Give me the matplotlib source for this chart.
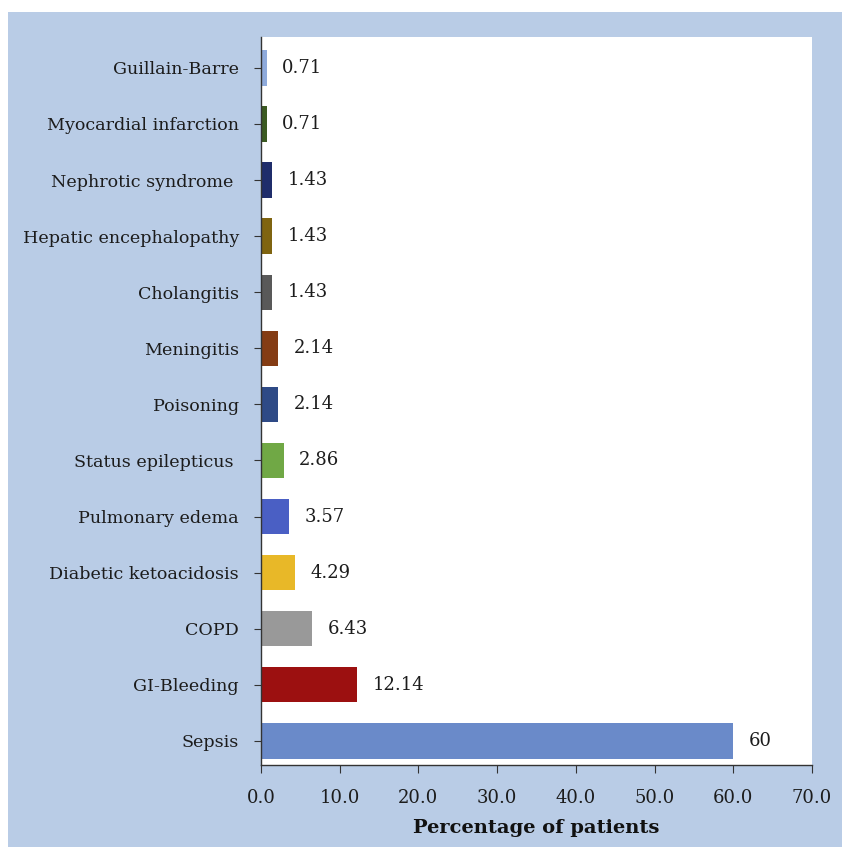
import matplotlib.pyplot as plt
from matplotlib.patches import Rectangle

# Data (top to bottom as drawn)
causes = ['Guillain-Barre', 'Myocardial infarction', 'Nephrotic syndrome ',
          'Hepatic encephalopathy', 'Cholangitis', 'Meningitis', 'Poisoning',
          'Status epilepticus ', 'Pulmonary edema', 'Diabetic ketoacidosis',
          'COPD', 'GI-Bleeding', 'Sepsis']
percent = [0.71, 0.71, 1.43, 1.43, 1.43, 2.14, 2.14, 2.86, 3.57, 4.29, 6.43, 12.14, 60]
value_labels = ['0.71', '0.71', '1.43', '1.43', '1.43', '2.14', '2.14', '2.86',
                '3.57', '4.29', '6.43', '12.14', '60']
bar_colors = ['#8eaadb', '#3b5a22', '#1f2d6b', '#7f6410', '#595959', '#843c14',
              '#2e4a86', '#70a845', '#4a5fc4', '#e8b828', '#999999', '#9c1010',
              '#6a8ac9']
x_ticks = [0, 10, 20, 30, 40, 50, 60, 70]

plt.rcParams['font.family'] = ['DejaVu Serif']
txt = '#1c1c1c'

fig = plt.figure(figsize=(8.42, 8.47), dpi=100)
fig.patch.set_facecolor('white')
# light blue panel behind the chart
fig.patches.append(Rectangle((8 / 842, 0), 1 - 8 / 842, 1 - 12 / 847,
                             transform=fig.transFigure, facecolor='#b9cce6',
                             edgecolor='none', zorder=-10))

ax = fig.add_axes([261 / 842, 1 - 765 / 847, (812 - 261) / 842, (765 - 37) / 847])
ax.set_facecolor('white')

ypos = list(range(len(causes)))[::-1]
ax.barh(ypos, percent, height=0.63, color=bar_colors)

for y, v, lab in zip(ypos, percent, value_labels):
    ax.text(v + 2.0, y, lab, va='center', ha='left', fontsize=13, color=txt)

ax.set_yticks(ypos)
ax.set_yticklabels(causes, fontsize=12.6, color=txt)
ax.set_ylim(-0.43, len(causes) - 0.45)
ax.set_xlim(0, 70)
ax.set_xticks(x_ticks)
ax.set_xticklabels([f'{t:.1f}' for t in x_ticks], fontsize=13, color=txt)
ax.set_xlabel('Percentage of patients', fontsize=14, fontweight='bold', color='#111111',
              labelpad=9)

for s in ['top', 'right']:
    ax.spines[s].set_visible(False)
for s in ['left', 'bottom']:
    ax.spines[s].set_color('#333333')
    ax.spines[s].set_linewidth(1.0)
ax.tick_params(axis='x', direction='out', length=6, color='#333333', pad=11)
ax.tick_params(axis='y', direction='out', length=5, color='#333333', pad=11)

fig.savefig('out.png', dpi=100)
